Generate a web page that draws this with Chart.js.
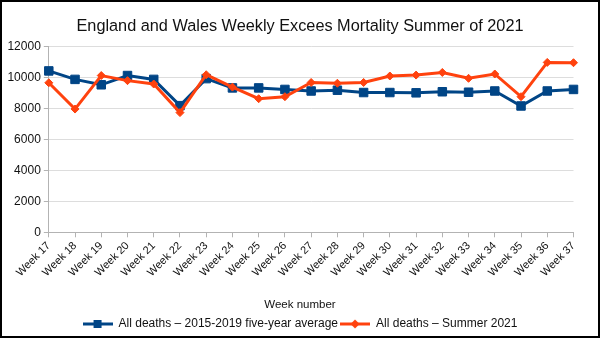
<!DOCTYPE html>
<html>
<head>
<meta charset="utf-8">
<script src="https://cdn.jsdelivr.net/npm/chart.js@4/dist/chart.umd.min.js"></script>
<style>
  html, body { margin: 0; padding: 0; background: #fff; }
  #frame { position: absolute; left: 0; top: 0; width: 600px; height: 338px; box-sizing: border-box; border: 2px solid #000; background: #fff; }
  #c { display: block; }
</style>
</head>
<body>
<div id="frame"><canvas id="c" width="596" height="334"></canvas></div>
<script>
const weeks = ['Week 17','Week 18','Week 19','Week 20','Week 21','Week 22','Week 23','Week 24','Week 25','Week 26','Week 27','Week 28','Week 29','Week 30','Week 31','Week 32','Week 33','Week 34','Week 35','Week 36','Week 37'];
const average2015to2019 = [10450, 9900, 9550, 10150, 9900, 8200, 9950, 9350, 9350, 9250, 9150, 9200, 9050, 9050, 9030, 9100, 9070, 9150, 8180, 9150, 9250];
const summer2021 = [9680, 7980, 10150, 9820, 9600, 7750, 10200, 9400, 8650, 8780, 9700, 9650, 9700, 10120, 10180, 10350, 9970, 10250, 8780, 11000, 10980];
const yTicks = [0, 2000, 4000, 6000, 8000, 10000, 12000];

const BLUE = '#004586';
const ORANGE = '#ff420e';
const FONT = "'Liberation Sans', Arial, sans-serif";

function legendIcon(color, shape) {
  const cv = document.createElement('canvas');
  cv.width = 30; cv.height = 12;
  const g = cv.getContext('2d');
  g.strokeStyle = color; g.lineWidth = 3;
  g.beginPath(); g.moveTo(0, 6); g.lineTo(30, 6); g.stroke();
  g.fillStyle = color;
  g.beginPath();
  if (shape === 'rect') { g.rect(11, 2, 8, 8); }
  else { g.moveTo(15, 1.5); g.lineTo(19.5, 6); g.lineTo(15, 10.5); g.lineTo(10.5, 6); g.closePath(); }
  g.fill();
  return cv;
}
const icons = [legendIcon(BLUE, 'rect'), legendIcon(ORANGE, 'diamond')];

const defaultGen = Chart.defaults.plugins.legend.labels.generateLabels;

new Chart(document.getElementById('c'), {
  type: 'line',
  data: {
    labels: weeks,
    datasets: [
      {
        label: 'All deaths – 2015-2019 five-year average',
        data: average2015to2019,
        borderColor: BLUE, backgroundColor: BLUE,
        borderWidth: 3, pointStyle: 'rect', pointRadius: 6, pointBorderWidth: 1,
        pointBackgroundColor: BLUE, pointBorderColor: BLUE,
        tension: 0, order: 1, yAxisID: 'y'
      },
      {
        label: 'All deaths – Summer 2021',
        data: summer2021,
        borderColor: ORANGE, backgroundColor: ORANGE,
        borderWidth: 3, pointStyle: 'rectRot', pointRadius: 4, pointBorderWidth: 1,
        pointBackgroundColor: ORANGE, pointBorderColor: ORANGE,
        tension: 0, order: 0, yAxisID: 'y'
      }
    ]
  },
  options: {
    responsive: false,
    animation: false,
    layout: { padding: { left: 0, right: 0, top: 0, bottom: -4 } },
    scales: {
      x: {
        offset: false,
        grid: { display: true, drawOnChartArea: false, drawTicks: true, tickLength: 5, color: '#b3b3b3' },
        border: { display: true, color: '#b3b3b3' },
        ticks: { autoSkip: false, maxRotation: 45, minRotation: 45, padding: 2, color: '#111', font: { family: FONT, size: 11 } }
      },
      y: {
        min: 0, max: 12000,
        afterBuildTicks: (axis) => { axis.ticks = yTicks.map(v => ({ value: v })); },
        afterFit: (s) => { s.width = 46.8; },
        grid: { color: '#dddddd', tickColor: '#b3b3b3', tickLength: 5 },
        border: { display: true, color: '#b3b3b3' },
        ticks: { padding: 3, color: '#111', font: { family: FONT, size: 12 }, callback: (v) => String(v) }
      },
      yRightSpace: {
        position: 'right',
        min: 0, max: 12000,
        afterFit: (s) => { s.width = 24.5; },
        grid: { display: false, drawTicks: false },
        border: { display: false },
        ticks: { display: false }
      }
    },
    plugins: {
      title: {
        display: true,
        text: 'England and Wales Weekly Excees Mortality Summer of 2021',
        color: '#111',
        font: { family: FONT, size: 16.3, weight: 'normal' },
        padding: { top: 15.2, bottom: 10.2 }
      },
      subtitle: {
        display: true,
        position: 'bottom',
        weight: 500,
        text: 'Week number',
        color: '#111',
        font: { family: FONT, size: 11.5, weight: 'normal' },
        padding: { top: 17, bottom: 4 }
      },
      legend: {
        position: 'bottom',
        weight: 1000,
        labels: {
          color: '#111',
          font: { family: FONT, size: 12 },
          usePointStyle: true,
          pointStyleWidth: 30,
          padding: 2,
          generateLabels(chart) {
            const items = defaultGen(chart);
            items.forEach(it => { it.pointStyle = icons[it.datasetIndex]; });
            items.sort((a, b) => a.datasetIndex - b.datasetIndex);
            return items;
          }
        }
      },
      tooltip: { enabled: false }
    }
  }
});
</script>
</body>
</html>
